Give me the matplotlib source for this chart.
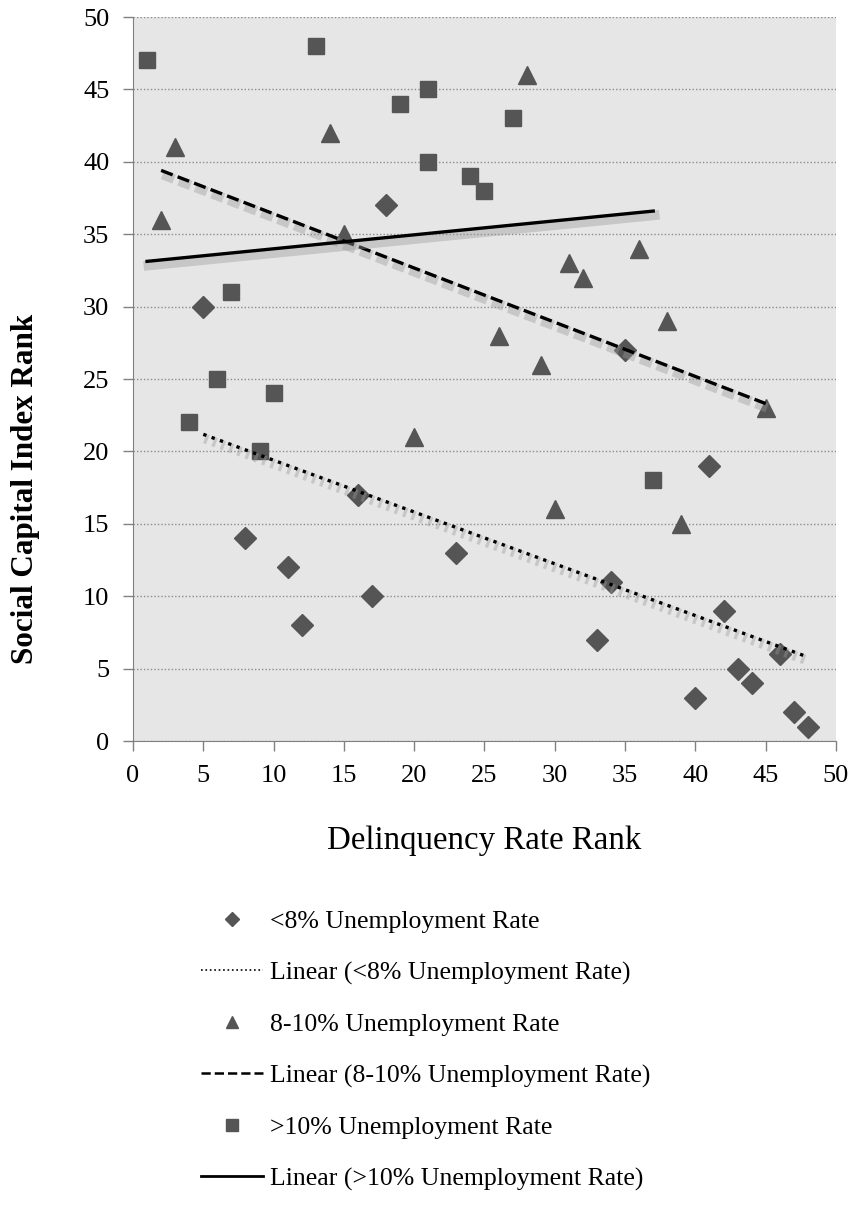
import numpy as np
import matplotlib
matplotlib.use('Agg')
import matplotlib.pyplot as plt
import matplotlib.patheffects as pe
from matplotlib.lines import Line2D

plt.rcParams['font.family'] = ['Liberation Serif', 'DejaVu Serif']

#%% data
# <8% unemployment rate
x_low = [5, 8, 11, 12, 16, 17, 18, 23, 33, 34, 35, 40, 41, 42, 43, 44, 46, 47, 48]
y_low = [30, 14, 12, 8, 17, 10, 37, 13, 7, 11, 27, 3, 19, 9, 5, 4, 6, 2, 1]
# 8-10% unemployment rate
x_mid = [2, 3, 14, 15, 20, 26, 28, 29, 30, 31, 32, 36, 38, 39, 45]
y_mid = [36, 41, 42, 35, 21, 28, 46, 26, 16, 33, 32, 34, 29, 15, 23]
# >10% unemployment rate
x_high = [1, 4, 6, 7, 9, 10, 13, 19, 21, 21, 24, 25, 27, 37]
y_high = [47, 22, 25, 31, 20, 24, 48, 44, 45, 40, 39, 38, 43, 18]

labels = ['<8% Unemployment Rate', '8-10% Unemployment Rate', '>10% Unemployment Rate']
ticks = list(range(0, 55, 5))

mcol = '#555555'
shadow = [pe.SimpleLineShadow(offset=(1, -3), shadow_color='#999999', alpha=0.4, linewidth=7),
          pe.Normal()]

#%% figure
fig = plt.figure(figsize=(8.54, 12.09), dpi=100)
ax = fig.add_axes([133/854, 1 - 741/1209, (836 - 133)/854, (741 - 17)/1209])
ax.set_facecolor('#e6e6e6')

series = [(x_low, y_low, 'D', 11, ':'),
          (x_mid, y_mid, '^', 13, '--'),
          (x_high, y_high, 's', 12, '-')]

for xs, ys, mk, ms, ls in series:
    ax.plot(xs, ys, linestyle='none', marker=mk, markersize=ms, color=mcol, zorder=3)
for xs, ys, mk, ms, ls in series:
    # linear trendline (least squares), spanning the series range
    m, b = np.polyfit(xs, ys, 1)
    xx = np.array([min(xs), max(xs)])
    ax.plot(xx, m*xx + b, linestyle=ls, color='black', linewidth=2.4,
            path_effects=shadow, zorder=4)

ax.set_xlim(0, 50)
ax.set_ylim(0, 50)
ax.set_xticks(ticks)
ax.set_yticks(ticks)
ax.tick_params(axis='both', direction='out', length=7, width=1, color='#808080',
               labelsize=19, pad=10)
ax.yaxis.grid(True, linestyle=(0, (1, 1.5)), color='#8c8c8c', linewidth=1)
ax.set_axisbelow(True)
for s in ['top', 'right']:
    ax.spines[s].set_visible(False)
for s in ['left', 'bottom']:
    ax.spines[s].set_color('#808080')

ax.set_ylabel('Social Capital Index Rank', fontsize=22.4, fontweight='bold')
ax.yaxis.set_label_coords(-0.133, 0.348)
ax.set_xlabel('Delinquency Rate Rank', fontsize=23.7, labelpad=28)

#%% legend
handles = [
    Line2D([], [], linestyle='none', marker='D', markersize=7, color=mcol),
    Line2D([], [], linestyle=':', color='black', linewidth=1.2),
    Line2D([], [], linestyle='none', marker='^', markersize=9, color=mcol),
    Line2D([], [], linestyle='--', color='black', linewidth=1.8),
    Line2D([], [], linestyle='none', marker='s', markersize=8, color=mcol),
    Line2D([], [], linestyle='-', color='black', linewidth=2),
]
leg_labels = [labels[0], 'Linear (' + labels[0] + ')',
              labels[1], 'Linear (' + labels[1] + ')',
              labels[2], 'Linear (' + labels[2] + ')']
fig.legend(handles, leg_labels, loc='upper left', bbox_to_anchor=(178/854, 1 - 887/1209),
           frameon=False, fontsize=18.5, handlelength=2.4, handletextpad=0.3,
           labelspacing=1.1)

fig.savefig('out.png', dpi=100)
